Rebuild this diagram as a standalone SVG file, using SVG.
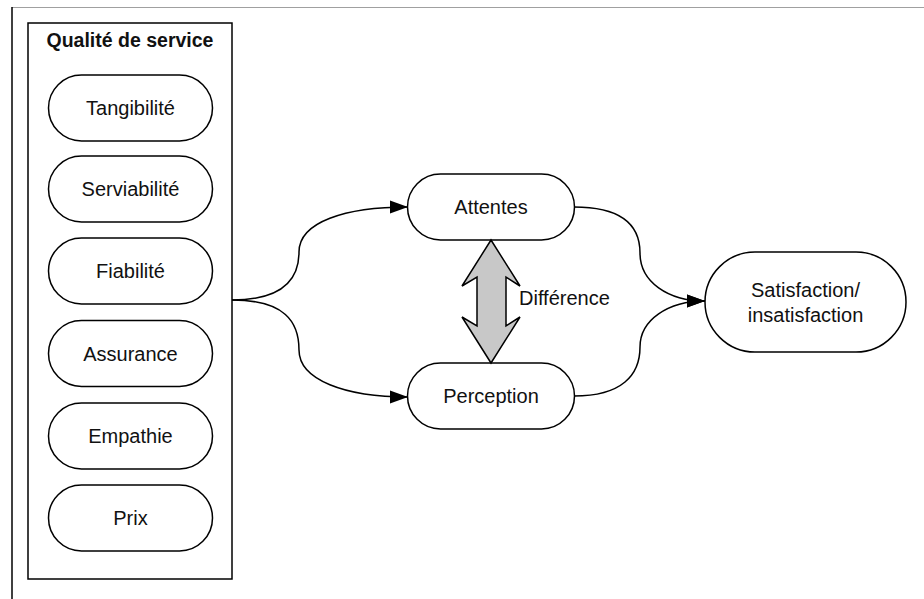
<svg xmlns="http://www.w3.org/2000/svg" width="924" height="599" viewBox="0 0 924 599">
<defs>
<style>
.pill{fill:#fff;stroke:#000;stroke-width:1.5}
.t{font-family:"Liberation Sans",Arial,sans-serif;font-size:20px;fill:#111;text-anchor:middle}
.c{fill:none;stroke:#000;stroke-width:1.5}
</style>
<marker id="ah" markerUnits="userSpaceOnUse" markerWidth="20" markerHeight="14" refX="18" refY="7" orient="auto">
<path d="M0,0.5 L18,7 L0,13.5 Z" fill="#000"/>
</marker>
</defs>
<rect width="924" height="599" fill="#fff"/>
<line x1="12" y1="7.5" x2="924" y2="7.5" stroke="#a0a0a0" stroke-width="1.2"/>
<line x1="12" y1="7" x2="12" y2="599" stroke="#000" stroke-width="1.5"/>
<g id="qualite">
<rect x="28" y="23" width="204" height="556" fill="#fff" stroke="#000" stroke-width="1.5"/>
<text x="130" y="47" class="t" style="font-weight:bold;font-size:19.5px">Qualité de service</text>
</g>
<g id="tangibilite"><rect class="pill" x="48.5" y="75" width="164" height="66" rx="33"/><text class="t" x="130.5" y="115">Tangibilité</text></g>
<g id="serviabilite"><rect class="pill" x="48.5" y="156" width="164" height="66" rx="33"/><text class="t" x="130.5" y="196">Serviabilité</text></g>
<g id="fiabilite"><rect class="pill" x="48.5" y="238" width="164" height="66" rx="33"/><text class="t" x="130.5" y="278">Fiabilité</text></g>
<g id="assurance"><rect class="pill" x="48.5" y="320.5" width="164" height="66" rx="33"/><text class="t" x="130.5" y="360.5">Assurance</text></g>
<g id="empathie"><rect class="pill" x="48.5" y="403" width="164" height="66" rx="33"/><text class="t" x="130.5" y="443">Empathie</text></g>
<g id="prix"><rect class="pill" x="48.5" y="485" width="164" height="66" rx="33"/><text class="t" x="130.5" y="525">Prix</text></g>
<g id="attentes"><rect class="pill" x="407.5" y="174" width="167" height="66" rx="33"/><text class="t" x="491" y="214">Attentes</text></g>
<g id="perception"><rect class="pill" x="407.5" y="363" width="167" height="66" rx="33"/><text class="t" x="491" y="403">Perception</text></g>
<g id="satisfaction"><rect class="pill" x="705" y="252" width="201" height="100" rx="50"/><text class="t" x="805.5" y="297">Satisfaction/</text><text class="t" x="805.5" y="322">insatisfaction</text></g>
<g id="difference">
<path d="M491,240 L520,286 L506,277 L506,326 L520,317 L491,363 L462,317 L477,326 L477,277 L462,286 Z" fill="#c8c8c8" stroke="#000" stroke-width="1.5" stroke-linejoin="miter"/>
<text class="t" x="519" y="305" style="text-anchor:start">Différence</text>
</g>
<g id="connectors">
<path class="c" d="M232,300 C285,300 299,278 299,252 C299,222 345,207 408,207" marker-end="url(#ah)"/>
<path class="c" d="M232,300 C285,300 299,322 299,350 C299,380 345,397 408,397" marker-end="url(#ah)"/>
<path class="c" d="M574,207 C622,207 640,225 640,253 C640,282 668,301 705,301" marker-end="url(#ah)"/>
<path class="c" d="M574,396 C622,396 640,375 640,347 C640,320 668,301 705,301" marker-end="url(#ah)"/>
</g>
</svg>
